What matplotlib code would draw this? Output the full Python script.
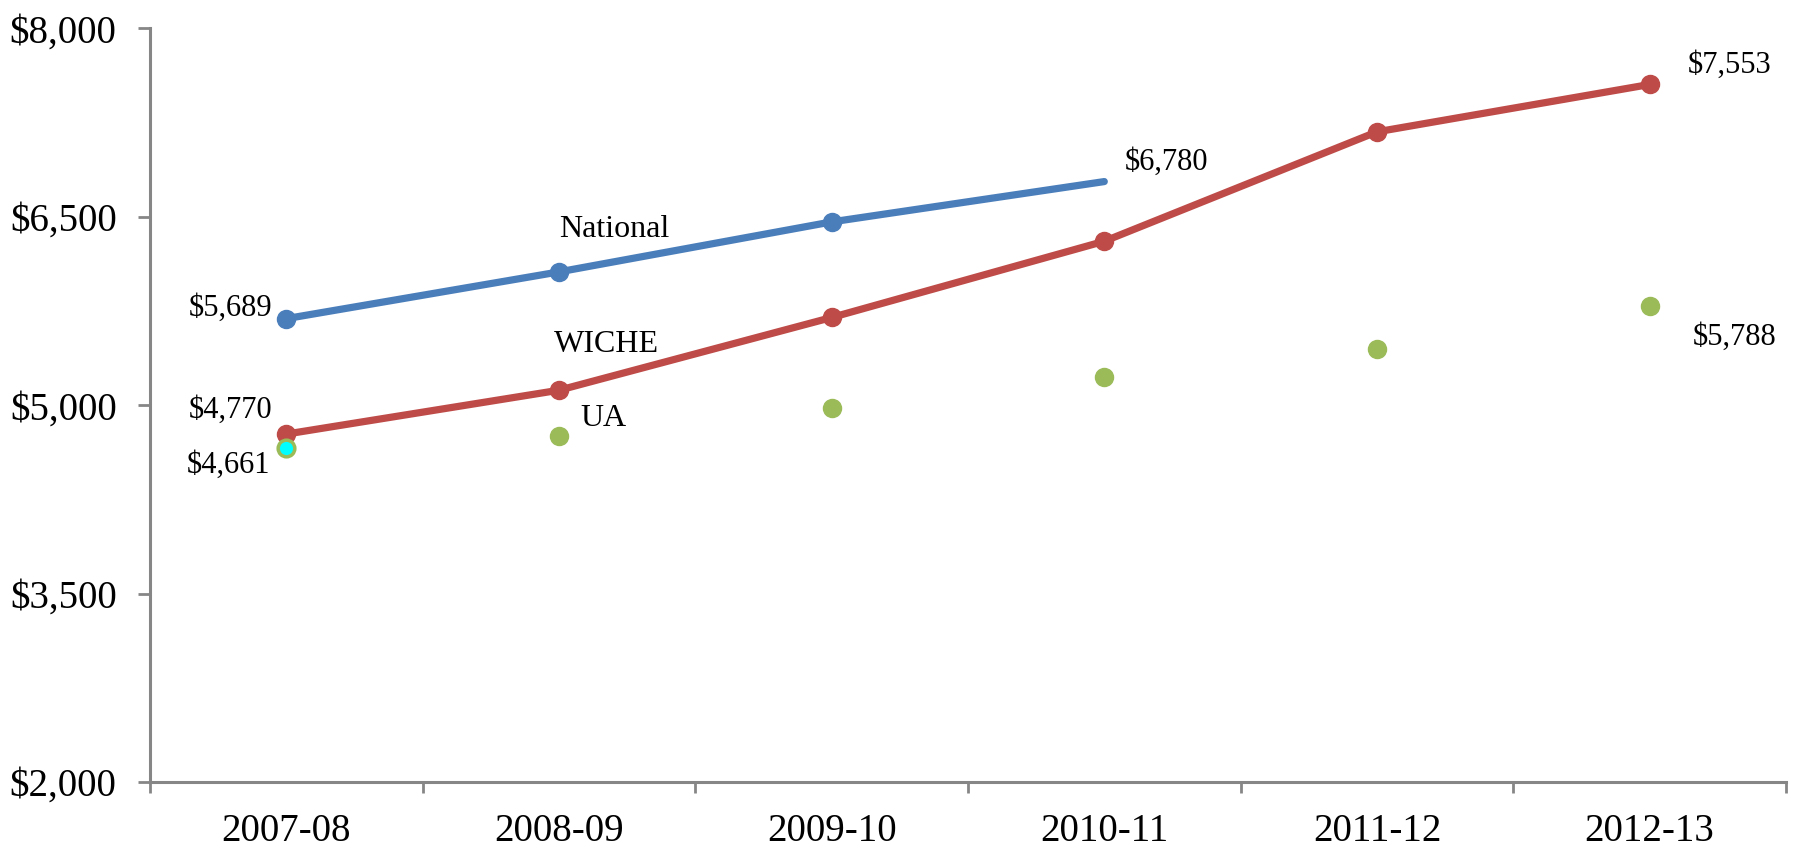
import matplotlib.pyplot as plt
from matplotlib.ticker import FuncFormatter

years = ['2007-08', '2008-09', '2009-10', '2010-11', '2011-12', '2012-13']
national = [5689, 6061, 6459, 6780]
wiche = [4770, 5119, 5698, 6305, 7176, 7553]
ua = [4661, 4752, 4978, 5225, 5450, 5788]

blue = '#4A7EBB'
red = '#BE4B48'
green = '#9BBB59'
grey = '#868686'

plt.rcParams['font.family'] = ['Liberation Serif', 'DejaVu Serif']

fig = plt.figure(figsize=(17.94, 8.48), dpi=100)
ax = fig.add_axes([0.0836, 0.0778, 0.9119, 0.8888])

x = list(range(len(years)))

ax.plot(x[:len(national)], national, color=blue, lw=5.2, solid_capstyle='round', zorder=3)
ax.plot(x[:len(national) - 1], national[:-1], 'o', color=blue, ms=13, zorder=4)
ax.plot(x, wiche, color=red, lw=5.2, marker='o', ms=13, zorder=3)
ax.plot(x[1:], ua[1:], 'o', color=green, ms=13, lw=0, zorder=4)
ax.plot(x[0], ua[0], 'o', mfc='#00FFFF', mec=green, mew=2.5, ms=12, zorder=5)

ax.set_xlim(-0.5, len(years) - 0.5)
ax.set_ylim(2000, 8000)
ax.set_yticks([2000, 3500, 5000, 6500, 8000])
ax.yaxis.set_major_formatter(FuncFormatter(lambda v, p: '${:,.0f}'.format(v)))
ax.set_xticks(x)
ax.set_xticklabels(years)
ax.set_xticks([i - 0.5 for i in range(len(years) + 1)], minor=True)

for s in ['top', 'right']:
    ax.spines[s].set_visible(False)
for s in ['left', 'bottom']:
    ax.spines[s].set_color(grey)
    ax.spines[s].set_linewidth(2.2)

ax.tick_params(axis='y', which='major', length=9, width=2, color=grey, pad=15, labelsize=28)
ax.tick_params(axis='x', which='major', length=0, pad=22, labelsize=28)
ax.tick_params(axis='x', which='minor', length=8, width=2, color=grey)

fs = 22


def lab(txt, xv, yv, dx, dy, ha, size=fs):
    ax.annotate(txt, (xv, yv), xytext=(dx, dy), textcoords='offset pixels',
                ha=ha, va='center', fontsize=size)


lab('${:,}'.format(national[0]), 0, national[0], -14, 10, 'right')
lab('${:,}'.format(wiche[0]), 0, wiche[0], -14, 24, 'right')
lab('${:,}'.format(ua[0]), 0, ua[0], -16, -18, 'right')
lab('${:,}'.format(national[-1]), 3, national[-1], 20, 19, 'left')
lab('${:,}'.format(wiche[-1]), 5, wiche[-1], 38, 19, 'left')
lab('${:,}'.format(ua[-1]), 5, ua[-1], 43, -31, 'left')

lab('National', 1, national[1], 0, 42, 'left', 23)
lab('WICHE', 1, wiche[1], -5, 46, 'left', 23)
lab('UA', 1, ua[1], 21, 18, 'left', 23)

fig.savefig('out.png', dpi=100)
